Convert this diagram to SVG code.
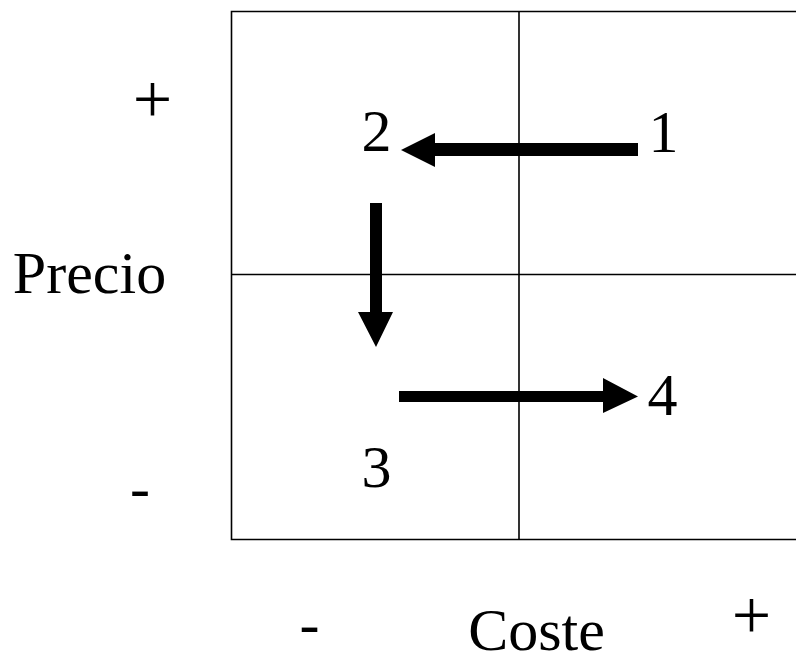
<svg xmlns="http://www.w3.org/2000/svg" width="796" height="656" viewBox="0 0 796 656">
<style>
.t{font-family:"Liberation Serif","Times New Roman",serif;font-size:60px;fill:#000;text-anchor:middle}
.p{font-size:70px}
.g{fill:none;stroke:#000;stroke-width:1.6}
.a{fill:#000}
</style>
<rect width="796" height="656" fill="#fff"/>
<g id="grid">
<path class="g" d="M800 11.5H231.5V539.5H800"/>
<path class="g" d="M519 11.5V539.5M231.5 274.5H800"/>
</g>
<g id="labels">
<text class="t p" x="152.5" y="123">+</text>
<text class="t" x="140" y="508">-</text>
<text class="t" x="89.5" y="293">Precio</text>
<text class="t" x="309.5" y="644">-</text>
<text class="t" x="536.5" y="650">Coste</text>
<text class="t p" x="751.5" y="639">+</text>
</g>
<g id="n1"><text class="t" x="663.5" y="152">1</text></g>
<g id="n2"><text class="t" x="376.5" y="151">2</text></g>
<g id="n3"><text class="t" x="376.5" y="487">3</text></g>
<g id="n4"><text class="t" x="662.5" y="415">4</text></g>
<g id="connectors">
<polygon class="a" points="638,143 435,143 435,133 401,150 435,167 435,156 638,156"/>
<polygon class="a" points="370,203 382,203 382,312 393,312 376,347 358,312 370,312"/>
<polygon class="a" points="399,391 603,391 603,378 638,396.5 603,413 603,402 399,402"/>
</g>
</svg>
